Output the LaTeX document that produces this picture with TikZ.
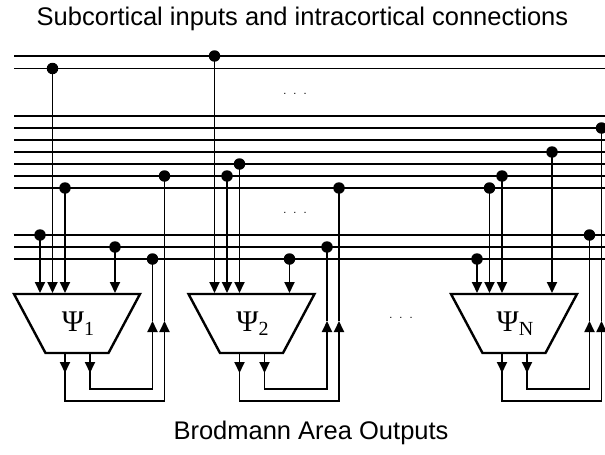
\documentclass[tikz,border=0pt]{standalone}
\usepackage{fontspec}
\setmainfont{Liberation Sans}
\newfontfamily\psifont{Liberation Serif}
\usepackage{tikz}
\usetikzlibrary{arrows.meta, calc}
\tikzstyle{wire} = [line width=1.8pt]
\tikzstyle{arr} = [-{Triangle[length=11pt,width=10pt]}]
\tikzstyle{tap} = [circle, fill=black, inner sep=0pt, minimum size=11.5pt]
\tikzstyle{area} = [line width=2.4pt, line join=miter]
\tikzstyle{caption} = [anchor=base, inner sep=0pt, font=\fontsize{25.5}{30}\selectfont]
\tikzstyle{ellip} = [inner sep=0pt, font=\fontsize{11}{11}\selectfont]

\begin{document}
\begin{tikzpicture}[x=1pt, y=-1pt]
    \useasboundingbox (0,0) rectangle (605,455);
    % Captions
    \node [caption] (title) at (302.5,25) {Subcortical inputs and intracortical connections};
    \node [caption] (outputs) at (311,439) {Brodmann Area Outputs};

    % Bus lines
    \foreach \y [count=\k] in {56,68.5,116,128,140,152,164,176,188,235,247,259}
        \draw [wire] (14,\y) coordinate (bus\k w) -- (605,\y) coordinate (bus\k e);
    \node [ellip] (dotsA) at (295,94) {.\hspace{7pt}.\hspace{7pt}.};
    \node [ellip] (dotsB) at (295,213) {.\hspace{7pt}.\hspace{7pt}.};
    \node [ellip] (dotsC) at (401,318) {.\hspace{7pt}.\hspace{7pt}.};

    % Areas: left edge / label / tap rows of the four inputs and the two feedbacks
    \foreach \L/\lab/\ya/\yb/\yc/\yd/\ye/\yf [count=\i] in
        {14/1/235/68.5/188/247/259/176, 188.5/2/56/176/164/259/247/188, 451/N/259/188/176/152/235/128}
    {
        \draw [area] (\L,294) -- ++(126,0) -- ++(-31.5,59) -- ++(-63,0) -- cycle;
        \node [anchor=base, inner sep=0pt] (psi\i) at (\L+64,331)
            {\psifont\fontsize{30}{30}\selectfont Ψ\raisebox{-4pt}{\fontsize{20}{20}\selectfont\lab}};

        % inputs
        \node [tap] (in\i a) at (\L+26,\ya) {};
        \node [tap] (in\i b) at (\L+38.5,\yb) {};
        \node [tap] (in\i c) at (\L+51,\yc) {};
        \node [tap] (in\i d) at (\L+101,\yd) {};
        \foreach \n/\x in {a/26, b/38.5, c/51, d/101}
            \draw [wire, arr] (in\i\n.center) -- (\L+\x,293) coordinate (top\i\n);

        % outputs fed back
        \node [tap] (fb\i a) at (\L+138.5,\ye) {};
        \node [tap] (fb\i b) at (\L+150.5,\yf) {};
        \coordinate (out\i a) at (\L+76,353);
        \coordinate (out\i b) at (\L+51,353);
        \draw [wire, arr] (out\i a) -- ++(0,20);
        \draw [wire, arr] (out\i b) -- ++(0,20);
        \draw [wire, arr] (out\i a) |- (\L+138.5,389) -- (\L+138.5,321) coordinate (up\i a);
        \draw [wire, arr] (out\i b) |- (\L+150.5,401) -- (\L+150.5,321) coordinate (up\i b);
        \draw [wire] (up\i a) -- (fb\i a.center);
        \draw [wire] (up\i b) -- (fb\i b.center);
    }
\end{tikzpicture}
\end{document}
